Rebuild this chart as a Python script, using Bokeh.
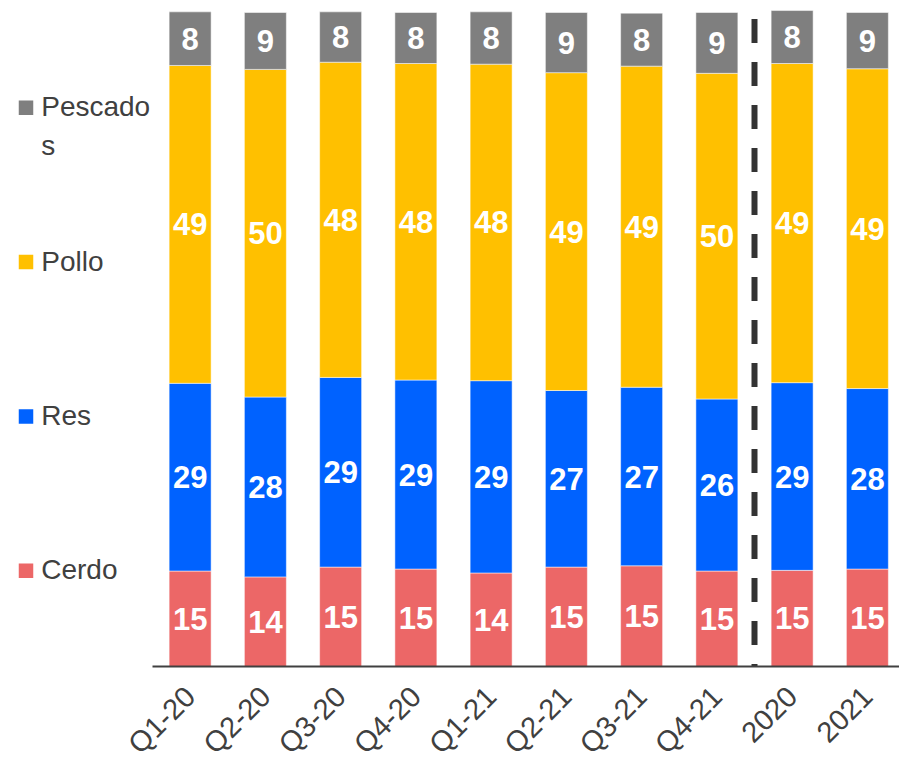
import numpy as np
from bokeh.plotting import figure
from bokeh.models import ColumnDataSource, Range1d
from bokeh.core.properties import value
from bokeh.embed import file_html
from bokeh.resources import INLINE

# ---- data ----
quarters = ["Q1-20", "Q2-20", "Q3-20", "Q4-20", "Q1-21", "Q2-21", "Q3-21", "Q4-21"]
years = ["2020", "2021"]
categories = quarters + years

series = ["Cerdo", "Res", "Pollo", "Pescados"]
cerdo = [14.6, 13.7, 15.2, 14.9, 14.3, 15.2, 15.4, 14.6, 14.7, 14.9]
res = [28.7, 27.5, 29.0, 28.9, 29.4, 27.0, 27.3, 26.3, 28.7, 27.6]
pollo = [48.6, 50.1, 48.2, 48.4, 48.4, 48.6, 49.1, 49.8, 48.8, 48.9]
pescados = [8.2, 8.7, 7.7, 7.8, 8.0, 9.2, 8.1, 9.3, 8.1, 8.6]
legend_text = {"Pescados": "Pescado\ns", "Pollo": "Pollo", "Res": "Res", "Cerdo": "Cerdo"}

colors = {"Cerdo": "#EC6767", "Res": "#0062FF", "Pollo": "#FFC000", "Pescados": "#7F7F7F"}
FONT = "Liberation Sans"
TEXT_COLOR = "#404040"

# ---- geometry (screen pixels) ----
W, H = 899, 766
LEFT_PX = 152          # where the bar area starts (legend sits to the left)
BASE_PX = 666          # baseline, from top
XPX = 75.25            # pixels per category
YPX = 6.54             # pixels per percentage point

x_start = -0.5 - LEFT_PX / XPX
x_end = -0.5 + (W - LEFT_PX) / XPX
y_start = -(H - BASE_PX) / YPX
y_end = BASE_PX / YPX


def px_x(px):
    return x_start + px / XPX


def px_y(py):
    return (BASE_PX - py) / YPX


n = len(categories)
xs = list(range(n))
data = dict(x=xs, Cerdo=cerdo, Res=res, Pollo=pollo, Pescados=pescados)
src = ColumnDataSource(data)

p = figure(width=W, height=H,
           x_range=Range1d(x_start, x_end), y_range=Range1d(y_start, y_end),
           output_backend="svg", toolbar_location=None,
           x_axis_location=None, y_axis_location=None,
           min_border_left=0, min_border_right=0, min_border_top=0,
           min_border_bottom=0)
p.grid.grid_line_color = None
p.outline_line_color = None
p.background_fill_color = "white"

p.vbar_stack(series, x="x", width=0.558, color=[colors[s] for s in series],
             source=src, line_color="white", line_alpha=0.5, line_width=1)

# value labels centred in each segment
lx, ly, lt = [], [], []
bottom = np.zeros(n)
for s in series:
    vals = np.array(data[s], dtype=float)
    mids = bottom + vals / 2
    for i in range(n):
        lx.append(xs[i])
        ly.append(mids[i])
        lt.append(f"{vals[i]:.0f}")
    bottom += vals
p.text(x=lx, y=ly, text=lt, text_font=value(FONT), text_font_style="bold",
       text_font_size="31px", text_color="white", text_align="center",
       text_baseline="middle")

# dashed separator between quarters and years
sep = len(quarters) - 0.5
p.segment(x0=[sep], y0=[99.0], x1=[sep], y1=[0], line_width=6,
          line_color="#333333", line_dash="24 19")

# baseline (category axis line)
p.segment(x0=[-0.5], y0=[0], x1=[x_end], y1=[0], line_width=2, line_color=TEXT_COLOR)

# category labels, rotated 45 degrees, ending just below each bar
p.text(x=xs, y=[px_y(691)] * n, text=categories, angle=np.pi / 4,
       x_offset=0, text_align="right", text_baseline="middle",
       text_font=value(FONT), text_font_size="29px", text_color=TEXT_COLOR)

# ---- legend (left of the bars) ----
order = list(reversed(series))
ycent_px = [107.3 + 154.3 * k for k in range(len(order))]
p.scatter(x=[px_x(25.5)] * len(order), y=[px_y(v) for v in ycent_px],
          marker="square", size=14.5,
          color=[colors[s] for s in order], line_color=None)
p.text(x=[px_x(40.7)] * len(order), y=[px_y(v - 16.5) for v in ycent_px],
       text=[legend_text[s] for s in order], text_font=value(FONT),
       text_font_size="28px", text_color=TEXT_COLOR, text_align="left",
       text_baseline="top", text_line_height=1.24)

open("out.html", "w").write(file_html(p, INLINE))
